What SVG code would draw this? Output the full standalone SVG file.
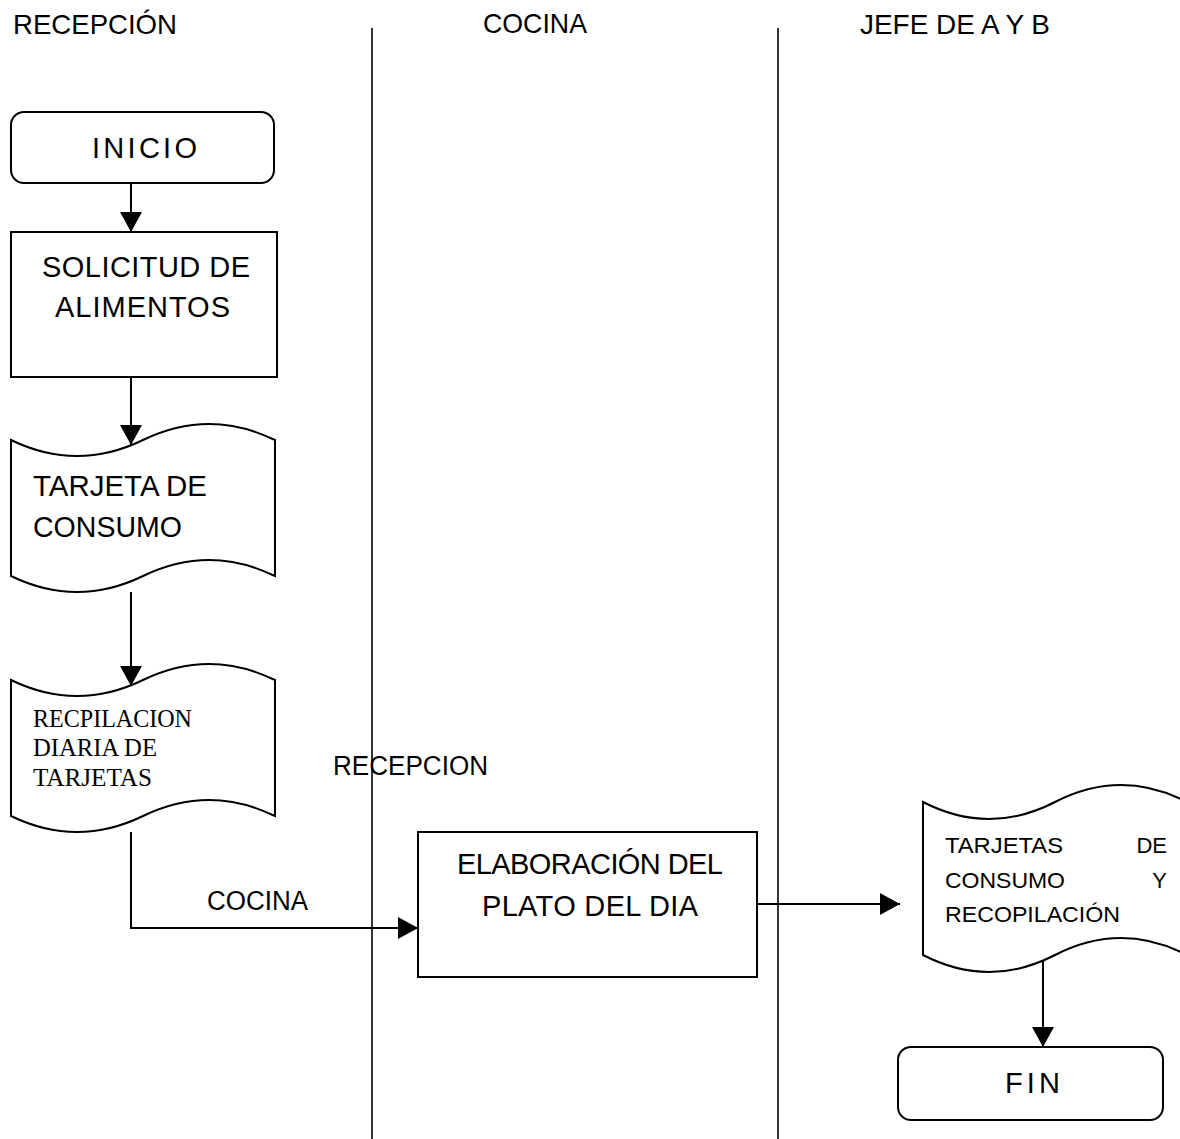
<svg xmlns="http://www.w3.org/2000/svg" width="1180" height="1139" viewBox="0 0 1180 1139">
  <style>
    .shape { fill: #ffffff; stroke: #000000; stroke-width: 2; }
    .lane { stroke: #000000; stroke-width: 1.6; fill: none; }
    .conn { stroke: #000000; stroke-width: 2; fill: none; }
    .t { font-family: "Liberation Sans", Arial, sans-serif; fill: #000000; }
    .serif { font-family: "Liberation Serif", "Times New Roman", serif; fill: #000000; }
  </style>
  <defs>
    <marker id="arrow" markerUnits="userSpaceOnUse" markerWidth="20" markerHeight="22" refX="20" refY="11" orient="auto">
      <path d="M0,0 L20,11 L0,22 Z" fill="#000000"/>
    </marker>
  </defs>

  <rect width="1180" height="1139" fill="#ffffff"/>

  <!-- swimlane headers and dividers -->
  <g id="lanes">
    <text class="t" x="13" y="34" font-size="28" textLength="164" lengthAdjust="spacingAndGlyphs">RECEPCIÓN</text>
    <text class="t" x="483" y="33" font-size="28" textLength="104" lengthAdjust="spacingAndGlyphs">COCINA</text>
    <text class="t" x="860" y="34" font-size="28" textLength="190" lengthAdjust="spacingAndGlyphs">JEFE DE A Y B</text>
    <line class="lane" x1="372" y1="28" x2="372" y2="1139"/>
    <line class="lane" x1="778" y1="28" x2="778" y2="1139"/>
  </g>

  <!-- connectors -->
  <g id="connectors">
    <path class="conn" d="M131,183 V232" marker-end="url(#arrow)"/>
    <path class="conn" d="M131,377 V445" marker-end="url(#arrow)"/>
    <path class="conn" d="M131,592 V686" marker-end="url(#arrow)"/>
    <path class="conn" d="M131,832 V928 H418" marker-end="url(#arrow)"/>
    <path class="conn" d="M754,904 H900" marker-end="url(#arrow)"/>
    <path class="conn" d="M1043,952 V1047" marker-end="url(#arrow)"/>
  </g>

  <!-- free labels on the flow -->
  <g id="flow-labels">
    <text class="t" x="333" y="775" font-size="27" textLength="155" lengthAdjust="spacingAndGlyphs">RECEPCION</text>
    <text class="t" x="207" y="910" font-size="27" textLength="101" lengthAdjust="spacingAndGlyphs">COCINA</text>
  </g>

  <g id="inicio">
    <rect class="shape" x="11" y="112" width="263" height="71" rx="13" ry="13"/>
    <text class="t" x="144.5" y="158" font-size="29" text-anchor="middle" textLength="105" lengthAdjust="spacing">INICIO</text>
  </g>

  <g id="solicitud">
    <rect class="shape" x="11" y="232" width="266" height="145"/>
    <text class="t" x="146" y="277" font-size="29" text-anchor="middle" textLength="208" lengthAdjust="spacing">SOLICITUD DE</text>
    <text class="t" x="142.5" y="317" font-size="29" text-anchor="middle" textLength="175" lengthAdjust="spacing">ALIMENTOS</text>
  </g>

  <g id="tarjeta">
    <path class="shape" d="M11,440 Q77,472 143,440 T275,440 L275,576 Q209,544 143,576 T11,576 Z"/>
    <text class="t" x="33" y="496" font-size="29" textLength="174" lengthAdjust="spacingAndGlyphs">TARJETA DE</text>
    <text class="t" x="33" y="537" font-size="29" textLength="149" lengthAdjust="spacingAndGlyphs">CONSUMO</text>
  </g>

  <g id="recopilacion">
    <path class="shape" d="M11,680 Q77,712 143,680 T275,680 L275,816 Q209,784 143,816 T11,816 Z"/>
    <text class="serif" x="33" y="727" font-size="25" textLength="159" lengthAdjust="spacingAndGlyphs">RECPILACION</text>
    <text class="serif" x="33" y="756" font-size="25" textLength="124" lengthAdjust="spacingAndGlyphs">DIARIA DE</text>
    <text class="serif" x="33" y="786" font-size="25" textLength="119" lengthAdjust="spacingAndGlyphs">TARJETAS</text>
  </g>

  <g id="elaboracion">
    <rect class="shape" x="418" y="832" width="339" height="145"/>
    <text class="t" x="590" y="874" font-size="29" text-anchor="middle" textLength="266" lengthAdjust="spacing">ELABORACIÓN DEL</text>
    <text class="t" x="590" y="916" font-size="29" text-anchor="middle" textLength="216" lengthAdjust="spacing">PLATO DEL DIA</text>
  </g>

  <g id="tarjetas-recopilacion">
    <path class="shape" d="M923,802 Q989,836 1055,802 T1187,802 L1187,955 Q1121,921 1055,955 T923,955 Z"/>
    <text class="t" x="945" y="853" font-size="22" textLength="118" lengthAdjust="spacingAndGlyphs">TARJETAS</text>
    <text class="t" x="1167" y="853" font-size="22" text-anchor="end">DE</text>
    <text class="t" x="945" y="888" font-size="22" textLength="120" lengthAdjust="spacingAndGlyphs">CONSUMO</text>
    <text class="t" x="1167" y="888" font-size="22" text-anchor="end">Y</text>
    <text class="t" x="945" y="922" font-size="22" textLength="175" lengthAdjust="spacingAndGlyphs">RECOPILACIÓN</text>
  </g>

  <g id="fin">
    <rect class="shape" x="898" y="1047" width="265" height="73" rx="13" ry="13"/>
    <text class="t" x="1032.5" y="1093" font-size="29" text-anchor="middle" textLength="55" lengthAdjust="spacing">FIN</text>
  </g>
</svg>
